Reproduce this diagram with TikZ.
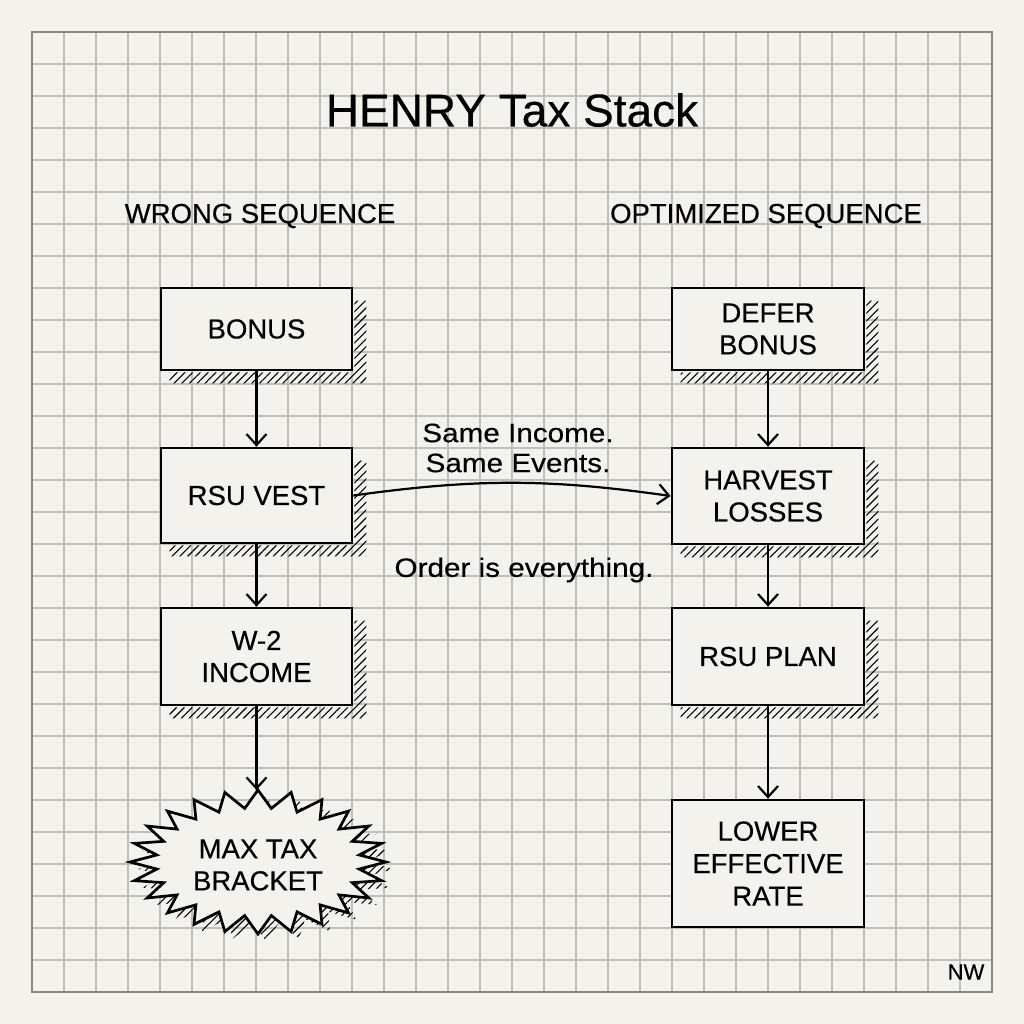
\documentclass[tikz,border=0pt]{standalone}
\usepackage{fontspec}
\setmainfont{Liberation Sans}[FakeBold=0.4]
\newfontfamily\widefont[FakeStretch=1.12,FakeBold=0.4]{Liberation Sans}
\usetikzlibrary{arrows.meta,patterns.meta,calc}
\definecolor{paper}{HTML}{F4F2EC}
\definecolor{gridc}{HTML}{C2BFB7}
\definecolor{borderc}{HTML}{8A8884}
\newcommand\hatchshadow[1]{%
  \fill[hatch] ($(#1.north east)+(1,14)$) -- ++(12,0) |- ($(#1.south west)+(10,12)$)
    -- ($(#1.south west)+(10,1)$) -- ($(#1.south east)+(1,1)$) -- cycle;}
\begin{document}
\begin{tikzpicture}[x=1pt,y=-1pt,
  gridline/.style={draw=gridc, line width=1.2pt},
  borderline/.style={draw=borderc, line width=2pt},
  box/.style={draw=black, line width=2.7pt, fill=paper, minimum width=191pt,
    align=center, font=\fontsize{27.5}{32}\selectfont, inner sep=0pt},
  hatch/.style={pattern={Lines[angle=45,distance=5.5pt,line width=1.1pt]}, pattern color=black},
  flow/.style={draw=black, line width=2.2pt, -{Straight Barb[length=11pt,width=20pt,line width=2.2pt]}},
  head/.style={font=\fontsize{27.5}{32}\selectfont},
  midlabel/.style={font=\widefont\fontsize{26.5}{30}\selectfont, align=center},
  burst/.style={line width=2.7pt}
]
\useasboundingbox (0,0) rectangle (1024,1024);
\fill[paper] (0,0) rectangle (1024,1024);
% grid
\foreach \i in {64,96,...,960} {
  \draw[gridline] (\i,32) -- (\i,992);
  \draw[gridline] (32,\i) -- (992,\i);
}
\draw[borderline] (32,32) rectangle (992,992);

% titles
\node[font=\fontsize{46}{50}\selectfont] (title) at (512,110) {HENRY Tax Stack};
\node[head] (hleft) at (260,216) {WRONG SEQUENCE};
\node[head] (hright) at (766,216) {OPTIMIZED SEQUENCE};

% left column
\node[box, minimum height=82pt] (bonus) at (256.5,329) {BONUS};
\node[box, minimum height=95pt] (rsuvest) at (256.5,495.5) {RSU VEST};
\node[box, minimum height=97pt] (w2) at (256.5,656.5) {W-2\\INCOME};

% right column
\node[box, minimum width=192pt, minimum height=82pt] (defer) at (768,329) {DEFER\\BONUS};
\node[box, minimum width=192pt, minimum height=96pt] (harvest) at (768,496) {HARVEST\\LOSSES};
\node[box, minimum width=192pt, minimum height=97pt] (rsuplan) at (768,656.5) {RSU PLAN};
\node[box, minimum width=192pt, minimum height=127pt, font=\fontsize{27.5}{32.5}\selectfont] (lower) at (768,863.5) {LOWER\\EFFECTIVE\\RATE};

% shadows
\hatchshadow{bonus}
\hatchshadow{rsuvest}
\hatchshadow{w2}
\hatchshadow{defer}
\hatchshadow{harvest}
\hatchshadow{rsuplan}

% starburst
\fill[hatch, shift={(8,7)}] plot[samples=49,domain=0:48,variable=\k]
  ({258+(128-26*mod(round(\k),2))*cos(-90+7.5*\k)},{862+(72-18*mod(round(\k),2))*sin(-90+7.5*\k)}) -- cycle;
\filldraw[burst, fill=paper, line join=miter] plot[samples=49,domain=0:48,variable=\k]
  ({258+(128-26*mod(round(\k),2))*cos(-90+7.5*\k)},{862+(72-18*mod(round(\k),2))*sin(-90+7.5*\k)}) -- cycle;
\node[align=center, font=\fontsize{27.5}{32}\selectfont] (max) at (258,865) {MAX TAX\\BRACKET};
\coordinate (maxtop) at (258,790);

% connectors
\draw[flow] (bonus) -- (rsuvest);
\draw[flow] (rsuvest) -- (w2);
\draw[flow] (w2.south) -- (w2.south |- maxtop);
\draw[flow] (defer) -- (harvest);
\draw[flow] (harvest) -- (rsuplan);
\draw[flow] (rsuplan) -- (lower);
\draw[flow] (rsuvest.east) to[bend left=8] (harvest.west);

% labels
\node[midlabel] (same) at (518,448) {Same Income.\\Same Events.};
\node[midlabel] (order) at (524,570) {Order is everything.};

% signature
\node[font=\fontsize{22}{24}\selectfont] (sig) at (966,972) {NW};
\end{tikzpicture}
\end{document}
